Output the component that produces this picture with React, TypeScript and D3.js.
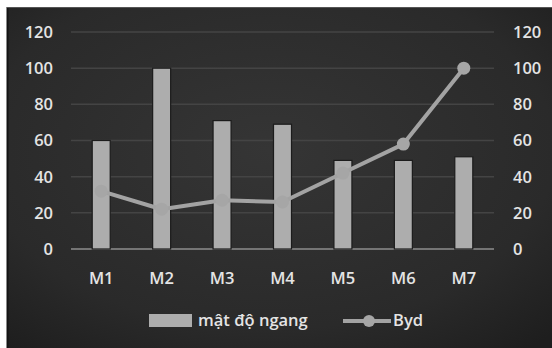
import React from "react";
import * as d3 from "d3";

const categories = ["M1", "M2", "M3", "M4", "M5", "M6", "M7"];
const barValues = [60, 100, 71, 69, 49, 49, 51];
const lineValues = [32, 22, 27, 26, 42, 58, 100];
const yTicks = [0, 20, 40, 60, 80, 100, 120];
const barName = "mật độ ngang";
const lineName = "Byd";

const W = 552;
const H = 348;
const plot = { left: 71, right: 494, top: 32, bottom: 249 };

export default function App() {
  const x = d3.scaleBand<string>().domain(categories).range([plot.left, plot.right]);
  const y = d3.scaleLinear().domain([0, 120]).range([plot.bottom, plot.top]);
  const barW = 18;
  const cx = (i: number) => (x(categories[i]) as number) + x.bandwidth() / 2;
  const line = d3
    .line<number>()
    .x((_, i) => cx(i))
    .y((d) => y(d));
  const font = "'Open Sans', 'DejaVu Sans', sans-serif";
  const textColor = "#e4e4e4";
  const fs = 16.5;
  return (
    <svg
      width={W}
      height={H}
      style={{ position: "absolute", left: 0, top: 0, display: "block" }}
    >
      <defs>
        <radialGradient id="bg" cx="48%" cy="42%" r="75%">
          <stop offset="0%" stopColor="#353535" />
          <stop offset="70%" stopColor="#2a2a2a" />
          <stop offset="100%" stopColor="#1e1e1e" />
        </radialGradient>
      </defs>
      <rect x={0} y={0} width={W} height={H} fill="#ffffff" />
      <rect x={7} y={7} width={W - 7} height={H - 7} fill="url(#bg)" />
      <line x1={7.5} x2={7.5} y1={7} y2={H} stroke="#141414" strokeWidth={2} />
      <line x1={7} x2={W} y1={7.5} y2={7.5} stroke="#555" strokeWidth={1} />
      {yTicks.map((t) => (
        <line
          key={"g" + t}
          x1={plot.left}
          x2={plot.right}
          y1={y(t)}
          y2={y(t)}
          stroke={t === 0 ? "#8e8e8e" : "#444444"}
          strokeWidth={t === 0 ? 1.5 : 1.5}
        />
      ))}
      {categories.map((c, i) => (
        <rect
          key={"b" + c}
          x={cx(i) - barW / 2}
          y={y(barValues[i])}
          width={barW}
          height={y(0) - y(barValues[i])}
          fill="#adadad"
          stroke="#1c1c1c"
          strokeWidth={1.2}
        />
      ))}
      <path d={line(lineValues) || ""} fill="none" stroke="#a3a3a3" strokeWidth={4} strokeLinejoin="round" />
      {lineValues.map((v, i) => (
        <circle key={"p" + i} cx={cx(i)} cy={y(v)} r={6.5} fill="#a6a6a6" />
      ))}
      {yTicks.map((t) => (
        <text
          key={"l" + t}
          x={53}
          y={y(t)}
          dy="0.36em"
          textAnchor="end"
          fontFamily={font}
          fontWeight={600}
          fontSize={fs}
          fill={textColor}
        >
          {t}
        </text>
      ))}
      {yTicks.map((t) => (
        <text
          key={"r" + t}
          x={513}
          y={y(t)}
          dy="0.36em"
          textAnchor="start"
          fontFamily={font}
          fontWeight={600}
          fontSize={fs}
          fill={textColor}
        >
          {t}
        </text>
      ))}
      {categories.map((c, i) => (
        <text
          key={"c" + c}
          x={cx(i)}
          y={278}
          dy="0.36em"
          textAnchor="middle"
          fontFamily={font}
          fontWeight={600}
          fontSize={fs}
          fill={textColor}
        >
          {c}
        </text>
      ))}
      <rect x={149} y={314} width={43} height={13} fill="#adadad" />
      <text x={198} y={320} dy="0.36em" fontFamily={font} fontWeight={600} fontSize={fs} fill={textColor}>
        {barName}
      </text>
      <line x1={343} x2={391} y1={321} y2={321} stroke="#a3a3a3" strokeWidth={4} />
      <circle cx={369} cy={321} r={6} fill="#a6a6a6" />
      <text x={393} y={320} dy="0.36em" fontFamily={font} fontWeight={600} fontSize={fs} fill={textColor}>
        {lineName}
      </text>
    </svg>
  );
}
